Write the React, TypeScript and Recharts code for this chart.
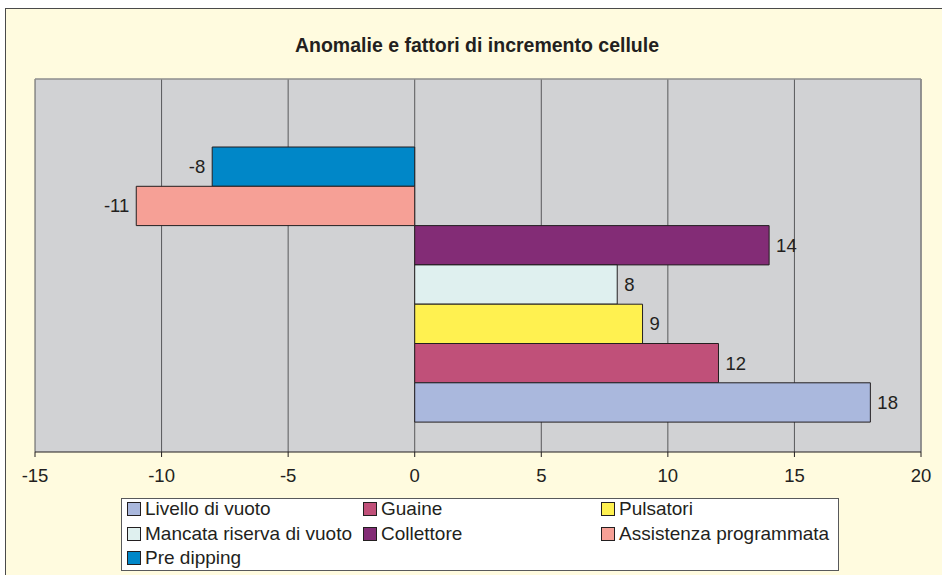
import React from 'react';
import { BarChart, Bar, XAxis, YAxis, CartesianGrid, LabelList } from 'recharts';

const categories = ['Anomalie e fattori di incremento cellule'];
const seriesNames = [
  'Livello di vuoto',
  'Guaine',
  'Pulsatori',
  'Mancata riserva di vuoto',
  'Collettore',
  'Assistenza programmata',
  'Pre dipping',
];
const seriesValues = [18, 12, 9, 8, 14, -11, -8];
const seriesColors = ['#AAB8DD', '#C05079', '#FFF150', '#DFF0EF', '#832C76', '#F6A096', '#0087C8'];
const xTicks = [-15, -10, -5, 0, 5, 10, 15, 20];
const title = 'Anomalie e fattori di incremento cellule';

const data = categories.map((name) => {
  const row: Record<string, any> = { name };
  seriesValues.forEach((v, i) => {
    row['s' + i] = v;
  });
  return row;
});

const TEXT = '#231F20';
const FONT = '"Liberation Sans", Arial, Helvetica, sans-serif';

function ValueLabel(props: any) {
  const vb = props.viewBox ?? {};
  const x = Number(props.x ?? vb.x);
  const y = Number(props.y ?? vb.y);
  const w = Number(props.width ?? vb.width);
  const h = Number(props.height ?? vb.height);
  const v = Number(props.value);
  const left = Math.min(x, x + w);
  const right = Math.max(x, x + w);
  const neg = v < 0;
  return (
    <text
      x={neg ? left - 7 : right + 7}
      y={y + h / 2}
      dy="0.35em"
      textAnchor={neg ? 'end' : 'start'}
      fill={TEXT}
      fontSize={18.5}
      fontFamily={FONT}
    >
      {v}
    </text>
  );
}

// bars drawn top to bottom in reverse legend order
const drawOrder = seriesNames.map((_, i) => i).reverse();

export default function App() {
  return (
    <div
      style={{
        position: 'absolute',
        left: 0,
        top: 0,
        width: 942,
        height: 575,
        overflow: 'hidden',
        background: '#FFFFFF',
        fontFamily: FONT,
      }}
    >
      <div
        style={{
          position: 'absolute',
          left: 5,
          top: 8,
          width: 960,
          height: 600,
          background: '#FFFBDF',
          borderLeft: '1px solid #4a4a4a',
          borderTop: '1px solid #4a4a4a',
        }}
      />
      <div
        style={{
          position: 'absolute',
          left: 0,
          top: 33,
          width: 954,
          textAlign: 'center',
          fontSize: 19.5,
          fontWeight: 'bold',
          color: TEXT,
          lineHeight: '24px',
        }}
      >
        {title}
      </div>
      <div style={{ position: 'absolute', left: 0, top: 0 }}>
        <BarChart
          width={942}
          height={575}
          data={data}
          layout="vertical"
          barSize={39.3}
          barGap={0}
          margin={{ top: 79, right: 21, bottom: 83, left: 35 }}
        >
          <CartesianGrid
            horizontal={false}
            vertical={true}
            fill="#D1D2D4"
            fillOpacity={1}
            stroke="#58595B"
            strokeWidth={1}
          />
          <CartesianGrid
            horizontal={true}
            vertical={true}
            stroke="#8E8E8E"
            strokeWidth={1.5}
            horizontalCoordinatesGenerator={(p: any) => [p.offset.top]}
            verticalCoordinatesGenerator={(p: any) => [p.offset.left + p.offset.width]}
          />
          <XAxis
            type="number"
            domain={[-15, 20]}
            ticks={xTicks}
            interval={0}
            height={40}
            tickSize={5}
            tickMargin={12}
            axisLine={{ stroke: '#231F20', strokeWidth: 1 }}
            tickLine={{ stroke: '#231F20', strokeWidth: 1 }}
            tick={{ fill: TEXT, fontSize: 18.5, fontFamily: FONT }}
            allowDataOverflow
          />
          <YAxis
            type="category"
            dataKey="name"
            width={0}
            tick={false}
            tickLine={false}
            axisLine={{ stroke: '#231F20', strokeWidth: 1.2 }}
            padding={{ top: 38, bottom: 0 }}
          />
          {drawOrder.map((i) => (
            <Bar
              key={seriesNames[i]}
              dataKey={'s' + i}
              name={seriesNames[i]}
              fill={seriesColors[i]}
              stroke="#231F20"
              strokeWidth={1}
              isAnimationActive={false}
            >
              <LabelList dataKey={'s' + i} content={ValueLabel} />
            </Bar>
          ))}
        </BarChart>
      </div>
      <div
        style={{
          position: 'absolute',
          left: 121,
          top: 498,
          width: 711,
          height: 71,
          background: '#FFFFFF',
          border: '1px solid #58595B',
          display: 'grid',
          gridTemplateColumns: '236px 238px 1fr',
          gridAutoRows: '24.5px',
          paddingLeft: 5,
          boxSizing: 'content-box',
        }}
      >
        {seriesNames.map((n, i) => (
          <div
            key={n}
            style={{
              display: 'flex',
              alignItems: 'center',
              fontSize: 19,
              color: TEXT,
              whiteSpace: 'nowrap',
              marginTop: -2,
              height: 24.5,
            }}
          >
            <span
              style={{
                display: 'inline-block',
                width: 12,
                height: 12,
                background: seriesColors[i],
                border: '1px solid #231F20',
                marginRight: 4,
                flex: '0 0 auto',
              }}
            />
            <span>{n}</span>
          </div>
        ))}
      </div>
    </div>
  );
}
